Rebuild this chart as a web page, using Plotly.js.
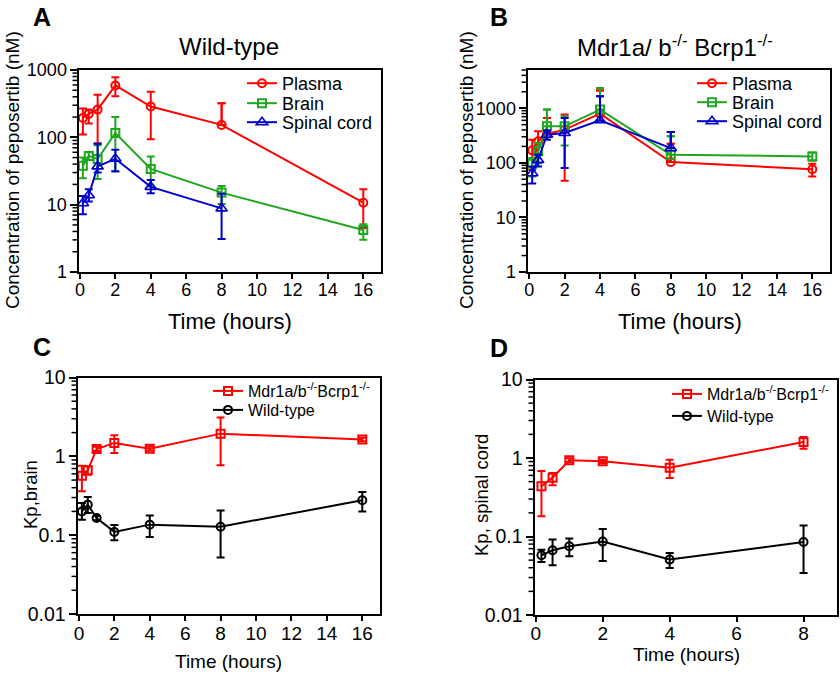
<!DOCTYPE html>
<html><head><meta charset="utf-8">
<script src="https://cdn.plot.ly/plotly-3.0.1.min.js"></script>
<style>html,body{margin:0;padding:0;background:#fff}#chart{width:840px;height:674px}</style>
</head><body><div id="chart"></div>
<script>
// ---------- data ----------
const timeAll = [0.167, 0.5, 1, 2, 4, 8, 16];
const timeSpinal = [0.167, 0.5, 1, 2, 4, 8];

// Panel A: wild-type concentrations (nM)
const wtPlasma = [194, 223, 258, 590, 287, 153, 10.7];
const wtPlasmaHi = [268, 258, 428, 778, 475, 322, 16.9];
const wtPlasmaLo = [110, 160, 82, 409, 94, null, 4.5];
const wtBrain = [38, 53, 47.5, 116, 34, 15.1, 4.2];
const wtBrainHi = [50, 60, 76, 201, 52, 19, 5.1];
const wtBrainLo = [24.7, 46, 24, 31.5, 18.6, 10.2, 3.0];
const wtSpinal = [10.5, 13.8, 37, 48, 18.4, 8.8];
const wtSpinalHi = [13.5, 17, 80, 65.5, 23.3, 14.5];
const wtSpinalLo = [7.2, 11.1, 30, 31, 14.8, 3.1];

// Panel B: Mdr1a/b-/- Bcrp1-/- concentrations (nM)
const koPlasma = [169, 247, 337, 405, 798, 103, 76];
const koPlasmaHi = [265, 377, 664, 764, 2113, 224, 96];
const koPlasmaLo = [74, 140, null, 47, null, null, 56];
const koBrain = [96, 162, 466, 466, 945, 140, 131];
const koBrainHi = [122, 230, 945, 712, 2335, 305, 155];
const koBrainLo = [56, 98, null, 208, null, null, 110];
const koSpinal = [64.5, 113, 327, 352, 601, 186];
const koSpinalHi = [86, 140, 390, 664, 1663, 367];
const koSpinalLo = [42, 86, 265, 80, null, null];

// Panel C: Kp,brain
const kpBrainKO = [0.569, 0.664, 1.24, 1.48, 1.25, 1.94, 1.63];
const kpBrainKOHi = [0.76, 0.75, 1.32, 1.85, 1.33, 3.12, 1.72];
const kpBrainKOLo = [0.36, 0.585, 1.17, 1.1, 1.18, 0.77, 1.55];
const kpBrainWT = [0.2, 0.244, 0.165, 0.11, 0.136, 0.128, 0.277];
const kpBrainWTHi = [0.256, 0.305, 0.175, 0.135, 0.177, 0.205, 0.353];
const kpBrainWTLo = [0.157, 0.191, 0.155, 0.086, 0.095, 0.052, 0.2];

// Panel D: Kp, spinal cord
const kpSpinalKO = [0.436, 0.562, 0.934, 0.907, 0.753, 1.6];
const kpSpinalKOHi = [0.683, 0.644, 0.99, 0.95, 0.95, 1.85];
const kpSpinalKOLo = [0.181, 0.45, 0.88, 0.865, 0.556, 1.31];
const kpSpinalWT = [0.0577, 0.0668, 0.0751, 0.0861, 0.0508, 0.0853];
const kpSpinalWTHi = [0.068, 0.0914, 0.094, 0.125, 0.0618, 0.138];
const kpSpinalWTLo = [0.0475, 0.043, 0.056, 0.0489, 0.0398, 0.0344];

// tick labels
const xTicks16 = [0, 2, 4, 6, 8, 10, 12, 14, 16];
const xTicks8 = [0, 2, 4, 6, 8];
const yTicksConc = [1, 10, 100, 1000];
const yTicksConcText = ['1', '10', '100', '1000'];
const yTicksKp = [0.01, 0.1, 1, 10];
const yTicksKpText = ['0.01', '0.1', '1', '10'];

// ---------- style ----------
const RED = '#ff0000', GREEN = '#1fa51f', BLUE = '#0000cc', BLACK = '#000000';
const FONT = 'Arial, "Liberation Sans", Helvetica, sans-serif';

function series(name, xs, ys, hi, lo, color, symbol, xa, ya, legend) {
  const out = [];
  const plus = ys.map((v, i) => hi[i] - v);
  const minus = ys.map((v, i) => lo[i] == null ? NaN : v - lo[i]);
  const tri = symbol.indexOf('triangle') === 0;
  // upper-only error bars where the lower bar is not drawn
  ys.forEach((v, i) => {
    if (lo[i] == null) {
      out.push({x: [xs[i]], y: [v], xaxis: xa, yaxis: ya, mode: 'markers', marker: {opacity: 0},
        showlegend: false, hoverinfo: 'skip',
        error_y: {type: 'data', symmetric: false, array: [hi[i] - v], arrayminus: [0], color: color, thickness: 2, width: 0}});
      out.push({x: [xs[i]], y: [hi[i]], xaxis: xa, yaxis: ya, mode: 'markers', marker: {opacity: 0},
        showlegend: false, hoverinfo: 'skip',
        error_y: {type: 'data', symmetric: false, array: [0], arrayminus: [0], color: color, thickness: 2, width: 4}});
    }
  });
  out.push({
    name: name, x: xs, y: ys, xaxis: xa, yaxis: ya, legend: legend,
    mode: 'lines+markers', type: 'scatter',
    line: {color: color, width: 2},
    marker: {symbol: symbol, size: tri ? 10 : 8, color: color, line: {color: color, width: tri ? 1.6 : 2}},
    error_y: {type: 'data', symmetric: false, array: plus, arrayminus: minus, color: color, thickness: 2, width: 4}
  });
  return out;
}

let traces = [];
traces = traces.concat(series('Plasma', timeAll, wtPlasma, wtPlasmaHi, wtPlasmaLo, RED, 'circle-open', 'x', 'y', 'legend'));
traces = traces.concat(series('Brain', timeAll, wtBrain, wtBrainHi, wtBrainLo, GREEN, 'square-open', 'x', 'y', 'legend2'));
traces = traces.concat(series('Spinal cord', timeSpinal, wtSpinal, wtSpinalHi, wtSpinalLo, BLUE, 'triangle-up-open', 'x', 'y', 'legend3'));

traces = traces.concat(series('Plasma', timeAll, koPlasma, koPlasmaHi, koPlasmaLo, RED, 'circle-open', 'x2', 'y2', 'legend4'));
traces = traces.concat(series('Brain', timeAll, koBrain, koBrainHi, koBrainLo, GREEN, 'square-open', 'x2', 'y2', 'legend5'));
traces = traces.concat(series('Spinal cord', timeSpinal, koSpinal, koSpinalHi, koSpinalLo, BLUE, 'triangle-up-open', 'x2', 'y2', 'legend6'));

const koName = 'Mdr1a/b<sup>-/-</sup>Bcrp1<sup>-/-</sup>';
traces = traces.concat(series(koName, timeAll, kpBrainKO, kpBrainKOHi, kpBrainKOLo, RED, 'square-open', 'x3', 'y3', 'legend7'));
traces = traces.concat(series('Wild-type', timeAll, kpBrainWT, kpBrainWTHi, kpBrainWTLo, BLACK, 'circle-open', 'x3', 'y3', 'legend8'));

traces = traces.concat(series(koName, timeSpinal, kpSpinalKO, kpSpinalKOHi, kpSpinalKOLo, RED, 'square-open', 'x4', 'y4', 'legend9'));
traces = traces.concat(series('Wild-type', timeSpinal, kpSpinalWT, kpSpinalWTHi, kpSpinalWTLo, BLACK, 'circle-open', 'x4', 'y4', 'legend10'));

const W = 840, H = 674;
const px = v => v / W, py = v => 1 - v / H;

function xAxis(domain, range, ticks, anchor, fs, stand) {
  return {domain: domain, range: range, anchor: anchor, tickmode: 'array', tickvals: ticks,
    ticks: 'outside', ticklen: 5, tickwidth: 2, tickcolor: BLACK, ticklabelstandoff: stand,
    showline: true, linewidth: 2, linecolor: BLACK, mirror: true,
    showgrid: false, zeroline: false, tickfont: {family: FONT, size: fs, color: BLACK}, fixedrange: true};
}
function yAxis(domain, range, ticks, text, anchor, fs) {
  return {domain: domain, type: 'log', range: range, anchor: anchor, tickmode: 'array', tickvals: ticks, ticktext: text,
    ticks: 'outside', ticklen: 7, tickwidth: 2, tickcolor: BLACK, ticklabelstandoff: -1,
    showline: true, linewidth: 2, linecolor: BLACK, mirror: true,
    showgrid: false, zeroline: false, tickfont: {family: FONT, size: fs, color: BLACK}, fixedrange: true};
}

// minor log ticks (2..9 in each decade) as small decoration lines beside each y axis
function minorTickShapes(leftPx, bottomPx, topPx, range) {
  const shapes = [];
  for (let e = Math.floor(range[0]); e < Math.ceil(range[1]); e++) {
    for (let k = 2; k <= 9; k++) {
      const lv = Math.log10(k) + e;
      if (lv > range[1]) continue;
      const y = bottomPx - (lv - range[0]) / (range[1] - range[0]) * (bottomPx - topPx);
      shapes.push({type: 'line', xref: 'paper', yref: 'paper', x0: px(leftPx - 6), x1: px(leftPx - 1),
        y0: py(y), y1: py(y), line: {color: BLACK, width: 1.5}, layer: 'above'});
    }
  }
  return shapes;
}

function ann(text, x, y, size, opts) {
  return Object.assign({text: text, x: px(x), y: py(y), xref: 'paper', yref: 'paper', showarrow: false,
    xanchor: 'center', yanchor: 'middle', font: {family: FONT, size: size, color: BLACK}}, opts || {});
}

// legend placed by text start (tx) and row centre (cy)
function leg(tx, cy, size) {
  return {x: px(tx - 41), y: py(cy - 18), xanchor: 'left', yanchor: 'top', bgcolor: 'rgba(0,0,0,0)',
    borderwidth: 0, tracegroupgap: 0, itemwidth: 30, font: {family: FONT, size: size, color: BLACK}};
}

const P = {
  A: {l: 78.5, r: 381, t: 70, b: 272, yr: [0, 3], xr: [-0.08, 17]},
  B: {l: 527.5, r: 830, t: 70, b: 272, yr: [0, 3.7], xr: [-0.1, 17]},
  C: {l: 77.5, r: 380, t: 377.5, b: 614, yr: [-2, 1], xr: [-0.08, 17]},
  D: {l: 534.5, r: 837, t: 379.5, b: 615, yr: [-2, 1], xr: [-0.04, 9]}
};
const dx = p => [px(p.l), px(p.r)], dy = p => [py(p.b), py(p.t)];

const layout = {
  width: W, height: H, margin: {l: 0, r: 0, t: 0, b: 0}, paper_bgcolor: '#fff', plot_bgcolor: '#fff',
  showlegend: true,
  xaxis: xAxis(dx(P.A), P.A.xr, xTicks16, 'y', 18, -5),
  yaxis: yAxis(dy(P.A), P.A.yr, yTicksConc, yTicksConcText, 'x', 18),
  xaxis2: xAxis(dx(P.B), P.B.xr, xTicks16, 'y2', 18, -5),
  yaxis2: yAxis(dy(P.B), P.B.yr, yTicksConc, yTicksConcText, 'x2', 18),
  xaxis3: xAxis(dx(P.C), P.C.xr, xTicks16, 'y3', 19, -4),
  yaxis3: yAxis(dy(P.C), P.C.yr, yTicksKp, yTicksKpText, 'x3', 19.5),
  xaxis4: xAxis(dx(P.D), P.D.xr, xTicks8, 'y4', 19, -5),
  yaxis4: yAxis(dy(P.D), P.D.yr, yTicksKp, yTicksKpText, 'x4', 19.5),
  shapes: [].concat(
    minorTickShapes(P.A.l, P.A.b, P.A.t, P.A.yr),
    minorTickShapes(P.B.l, P.B.b, P.B.t, P.B.yr),
    minorTickShapes(P.C.l, P.C.b, P.C.t, P.C.yr),
    minorTickShapes(P.D.l, P.D.b, P.D.t, P.D.yr)),
  legend: leg(283, 83, 18),
  legend2: leg(283, 103, 18),
  legend3: leg(283, 122, 18),
  legend4: leg(733, 83, 18),
  legend5: leg(733, 102, 18),
  legend6: leg(733, 121, 18),
  legend7: leg(249, 392, 16),
  legend8: leg(249, 411, 16),
  legend9: leg(708, 395, 16),
  legend10: leg(708, 417, 16),
  annotations: [
    ann('<b>A</b>', 42, 17, 25),
    ann('<b>B</b>', 499, 17, 25),
    ann('<b>C</b>', 42, 347, 25),
    ann('<b>D</b>', 499, 348, 25),
    ann('Wild-type', 229, 46, 24),
    ann('Mdr1a/ b<sup>-/-</sup> Bcrp1<sup>-/-</sup>', 675, 46, 24),
    ann('Concentration of peposertib (nM)', 13, 170, 19, {textangle: -90}),
    ann('Concentration of peposertib (nM)', 467, 170, 19, {textangle: -90}),
    ann('Time (hours)', 230, 321, 22),
    ann('Time (hours)', 680, 321, 22),
    ann('Kp,brain', 30, 495, 18.5, {textangle: -90}),
    ann('Kp, spinal cord', 481, 495, 18.5, {textangle: -90}),
    ann('Time (hours)', 229, 661, 19),
    ann('Time (hours)', 686, 654, 19)
  ]
};

Plotly.newPlot('chart', traces, layout, {displayModeBar: false, staticPlot: true});
</script></body></html>
